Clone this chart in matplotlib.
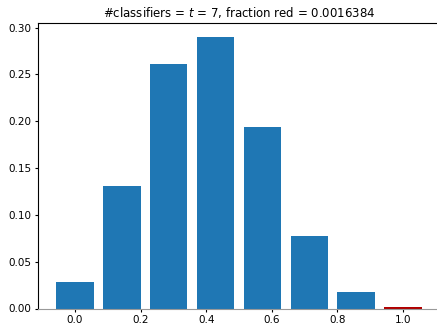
import matplotlib
matplotlib.use("Agg")
import matplotlib.pyplot as plt

x_values = [0, 1/7, 2/7, 3/7, 4/7, 5/7, 6/7, 1.0]
probs = [0.028, 0.1306, 0.2613, 0.2903, 0.1935, 0.0774, 0.0172, 0.0016384]
colors = ["#1f77b4"] * 7 + ["#b00000"]
title = "#classifiers = $t$ = 7, fraction red = 0.0016384"

fig = plt.figure(figsize=(4.37, 3.24), dpi=100)
ax = fig.add_axes([38/437, 15.5/324, 402/437, 285.5/324])
ax.bar(x_values, probs, width=0.8/7, color=colors)
ax.set_title(title, fontsize=8.5, pad=4)
ax.set_xticks([0.0, 0.2, 0.4, 0.6, 0.8, 1.0])
ax.set_yticks([0.0, 0.05, 0.10, 0.15, 0.20, 0.25, 0.30])
ax.tick_params(labelsize=7.5, length=2.5, pad=2.2)
ax.spines["bottom"].set_color("0.6")
fig.savefig("out.png", dpi=100)
